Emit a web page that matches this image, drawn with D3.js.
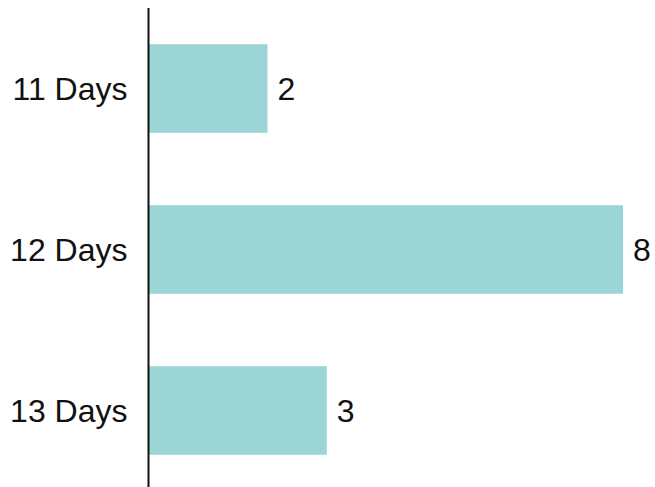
<!DOCTYPE html>
<html>
<head>
<meta charset="utf-8">
<script src="https://cdn.jsdelivr.net/npm/d3@7"></script>
<style>
  html, body { margin: 0; padding: 0; background: #fff; }
  svg { display: block; }
  text { font-family: "Liberation Sans", Arial, sans-serif; fill: #111; }
</style>
</head>
<body>
<svg id="chart" width="655" height="487"></svg>
<script>
// Trip length categories and their counts
const categories = ["11 Days", "12 Days", "13 Days"];
const counts = [2, 8, 3];

const width = 655, height = 487;
const axisX = 148.5;
const barColor = "#9bd5d5";
const fontSize = 32;

const svg = d3.select("#chart");

const x = d3.scaleLinear()
  .domain([0, 8])
  .range([axisX + 0.5, 623]);

const y = d3.scaleBand()
  .domain(categories)
  .range([8, 491])
  .paddingInner(0.45)
  .paddingOuter(0.225);

const data = categories.map((c, i) => ({ cat: c, value: counts[i] }));

// Bars
svg.append("g")
  .selectAll("rect")
  .data(data)
  .join("rect")
  .attr("x", x(0))
  .attr("y", d => y(d.cat))
  .attr("width", d => x(d.value) - x(0))
  .attr("height", y.bandwidth())
  .attr("fill", barColor);

// Value labels at bar ends
svg.append("g")
  .selectAll("text")
  .data(data)
  .join("text")
  .attr("x", d => x(d.value) + 10)
  .attr("y", d => y(d.cat) + y.bandwidth() / 2)
  .attr("dy", "0.36em")
  .attr("font-size", fontSize)
  .text(d => d.value);

// Category axis
const yAxis = d3.axisLeft(y).tickSize(0).tickPadding(21);
const gAxis = svg.append("g")
  .attr("transform", `translate(${axisX},0)`)
  .call(yAxis);
gAxis.select(".domain").remove();
gAxis.selectAll("text")
  .attr("font-size", fontSize)
  .attr("dy", "0.36em")
  .style("font-family", "'Liberation Sans', Arial, sans-serif")
  .attr("fill", "#111");

svg.append("line")
  .attr("x1", axisX).attr("x2", axisX)
  .attr("y1", 8).attr("y2", height)
  .attr("stroke", "#111")
  .attr("stroke-width", 2);
</script>
</body>
</html>
